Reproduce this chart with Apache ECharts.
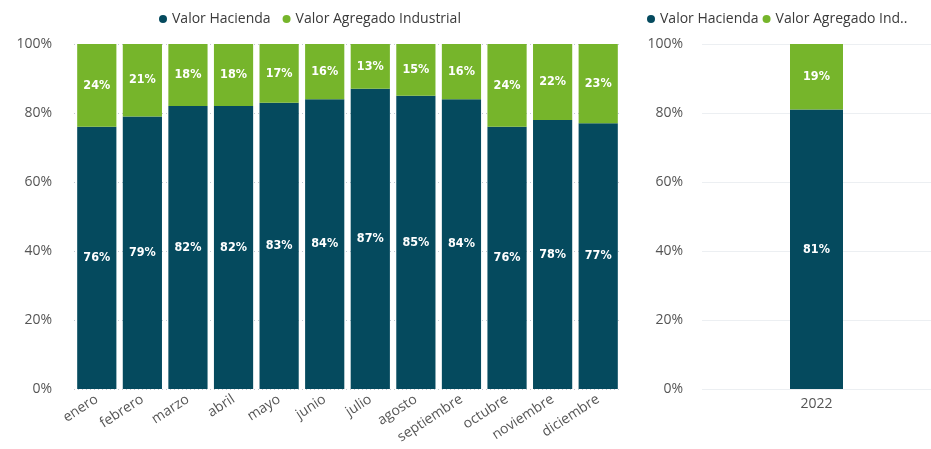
<!DOCTYPE html>
<html>
<head>
<meta charset="utf-8">
<script src="https://cdn.jsdelivr.net/npm/echarts@6/dist/echarts.min.js"></script>
<style>
  html, body { margin: 0; padding: 0; background: #ffffff; }
  #chart { width: 931px; height: 449px; }
</style>
</head>
<body>
<div id="chart"></div>
<script>
// Monthly share of each component (percent)
const months = ['enero', 'febrero', 'marzo', 'abril', 'mayo', 'junio', 'julio', 'agosto', 'septiembre', 'octubre', 'noviembre', 'diciembre'];
const haciendaMes = [76, 79, 82, 82, 83, 84, 87, 85, 84, 76, 78, 77];
const agregadoMes = [24, 21, 18, 18, 17, 16, 13, 15, 16, 24, 22, 23];

// Yearly share
const years = ['2022'];
const haciendaAnio = [81];
const agregadoAnio = [19];

const yTicks = [0, 20, 40, 60, 80, 100];

const seriesNames = ['Valor Hacienda', 'Valor Agregado Industrial'];
const colorHacienda = '#054a5e';
const colorAgregado = '#76b52b';

const uiFont = "'Segoe UI', 'Open Sans', 'Noto Sans', sans-serif";
const labelFont = "'DejaVu Sans Condensed', 'DejaVu Sans', sans-serif";

const chart = echarts.init(document.getElementById('chart'), null, { renderer: 'canvas' });

function valueAxis(gridIndex, labelMargin, gridLine) {
  return {
    type: 'value',
    gridIndex: gridIndex,
    min: 0,
    max: 100,
    interval: 20,
    axisLine: { show: false },
    axisTick: { show: false },
    axisLabel: {
      color: '#555555',
      fontFamily: uiFont,
      fontSize: 14,
      margin: labelMargin,
      formatter: v => yTicks.includes(v) ? v + '%' : ''
    },
    splitLine: { show: true, lineStyle: gridLine }
  };
}

function barLabel() {
  return {
    show: true,
    position: 'inside',
    color: '#ffffff',
    fontFamily: labelFont,
    fontWeight: 'bold',
    fontSize: 12.5,
    formatter: p => p.value + '%'
  };
}

const legendText = { color: '#3a3a3a', fontFamily: uiFont, fontSize: 14 };

const option = {
  animation: false,
  backgroundColor: '#ffffff',
  color: [colorHacienda, colorAgregado],
  legend: [
    {
      data: seriesNames,
      left: 154,
      top: 7,
      icon: 'circle',
      itemWidth: 8,
      itemHeight: 8,
      itemGap: 12,
      textStyle: legendText
    },
    {
      data: seriesNames,
      left: 642,
      top: 7,
      icon: 'circle',
      itemWidth: 8,
      itemHeight: 8,
      itemGap: 4,
      textStyle: legendText,
      formatter: name => name.length > 18 ? name.slice(0, 18) + '..' : name
    }
  ],
  grid: [
    { left: 74, right: 310, top: 44, bottom: 60 },
    { left: 702, right: 0, top: 44, bottom: 60 }
  ],
  xAxis: [
    {
      type: 'category',
      gridIndex: 0,
      data: months,
      axisLine: { show: false },
      axisTick: { show: false },
      axisLabel: {
        rotate: 33,
        interval: 0,
        color: '#555555',
        fontFamily: uiFont,
        fontSize: 14,
        margin: 9
      }
    },
    {
      type: 'category',
      gridIndex: 1,
      data: years,
      axisLine: { show: false },
      axisTick: { show: false },
      axisLabel: {
        color: '#555555',
        fontFamily: uiFont,
        fontSize: 14,
        margin: 8
      }
    }
  ],
  yAxis: [
    valueAxis(0, 22, { color: '#c2c9d1', type: [1, 3], width: 1 }),
    valueAxis(1, 19, { color: '#eceff2', type: 'solid', width: 1 })
  ],
  series: [
    {
      name: seriesNames[0], type: 'bar', stack: 'mes', xAxisIndex: 0, yAxisIndex: 0,
      data: haciendaMes, barCategoryGap: '14%', label: barLabel()
    },
    {
      name: seriesNames[1], type: 'bar', stack: 'mes', xAxisIndex: 0, yAxisIndex: 0,
      data: agregadoMes, barCategoryGap: '14%', label: barLabel()
    },
    {
      name: seriesNames[0], type: 'bar', stack: 'anio', xAxisIndex: 1, yAxisIndex: 1,
      data: haciendaAnio, barWidth: 53, label: barLabel()
    },
    {
      name: seriesNames[1], type: 'bar', stack: 'anio', xAxisIndex: 1, yAxisIndex: 1,
      data: agregadoAnio, barWidth: 53, label: barLabel()
    }
  ]
};

chart.setOption(option);
</script>
</body>
</html>
